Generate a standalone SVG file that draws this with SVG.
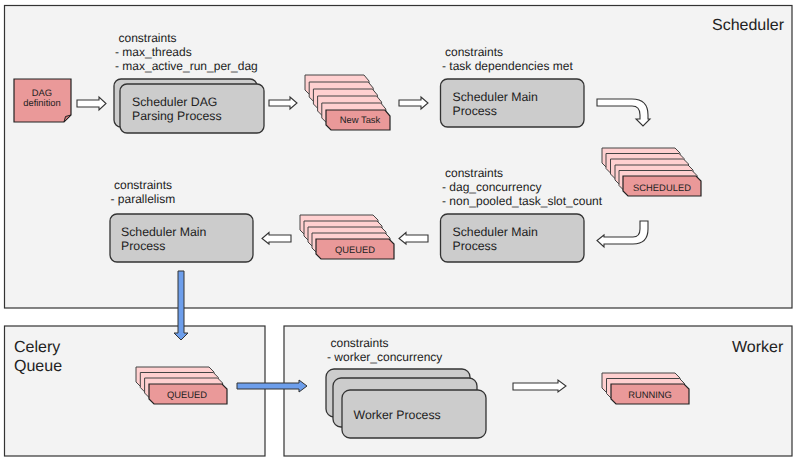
<svg xmlns="http://www.w3.org/2000/svg" width="800" height="467" viewBox="0 0 800 467">
<style>
text{font-family:"Liberation Sans",Arial,sans-serif;fill:#222;text-rendering:geometricPrecision}
.panel{fill:#f3f3f3;stroke:#333;stroke-width:1.2}
.box{fill:#ccc;stroke:#333;stroke-width:1.3}
.back{fill:#ffd0d0;stroke:#444;stroke-width:1}
.front{fill:#ea9999;stroke:#222;stroke-width:1.2}
.arrow{fill:#fff;stroke:#333;stroke-width:1.1;stroke-linejoin:miter}
.blue{fill:#6d9eeb;stroke:#333;stroke-width:1}
.title{font-size:16px}
.note{font-size:12px}
.label{font-size:12.3px}
.tag{font-size:9.4px;text-anchor:middle}
</style>
<defs>
<path id="c64" d="M0 0H59L64 6V20H5L0 15Z"/>
<path id="c78" d="M0 0H73L78 5V20H5L0 15Z"/>
</defs>
<rect width="800" height="467" fill="#fff"/>
<g id="scheduler-panel"><rect class="panel" x="4.500" y="5.500" width="787.500" height="302.500"/><text class="title" x="712" y="30">Scheduler</text></g>
<g id="celery-panel"><rect class="panel" x="4.500" y="326" width="260.500" height="130"/><text class="title" x="14" y="352">Celery</text><text class="title" x="14" y="371">Queue</text></g>
<g id="worker-panel"><rect class="panel" x="284" y="326" width="508" height="130"/><text class="title" x="732" y="352">Worker</text></g>

<g id="dag-definition">
<path class="front" d="M14 79H71V115L64 122H14Z"/>
<path d="M71 115L64 122L65.500 116.500Z" fill="#c77" stroke="#222" stroke-width="1"/>
<text class="tag" x="42" y="96">DAG</text><text class="tag" x="42" y="106">definition</text>
</g>
<g id="dag-parsing">
<rect class="box" x="114" y="79" width="143" height="48" rx="7"/>
<rect class="box" x="120" y="84" width="144" height="49" rx="7"/>
<text class="label" x="132" y="106">Scheduler DAG</text><text class="label" x="132" y="120">Parsing Process</text>
<text class="note" x="118.500" y="42">constraints</text><text class="note" x="115" y="56">- max_threads</text><text class="note" x="115" y="70">- max_active_run_per_dag</text>
</g>
<g id="new-task">
<g class="back"><use href="#c64" x="305" y="75"/><use href="#c64" x="309.200" y="82"/><use href="#c64" x="313.400" y="89"/><use href="#c64" x="317.600" y="96"/><use href="#c64" x="321.800" y="103"/></g>
<use class="front" href="#c64" x="326" y="110"/>
<text class="tag" x="360" y="122.800">New Task</text>
</g>
<g id="main-1">
<rect class="box" x="440.500" y="79" width="143.500" height="48" rx="7"/>
<text class="label" x="452.500" y="101">Scheduler Main</text><text class="label" x="452.500" y="115">Process</text>
<text class="note" x="445" y="56">constraints</text><text class="note" x="442" y="70">- task dependencies met</text>
</g>
<g id="scheduled">
<g class="back"><use href="#c78" x="602" y="148"/><use href="#c78" x="606" y="153.500"/><use href="#c78" x="610.500" y="159"/><use href="#c78" x="615" y="165"/><use href="#c78" x="619" y="170.500"/></g>
<use class="front" href="#c78" x="623" y="176"/>
<text class="tag" x="662" y="190.500">SCHEDULED</text>
</g>
<g id="main-2">
<rect class="box" x="440.500" y="214" width="143.500" height="48" rx="7"/>
<text class="label" x="452.500" y="236">Scheduler Main</text><text class="label" x="452.500" y="250">Process</text>
<text class="note" x="445" y="177">constraints</text><text class="note" x="442" y="191">- dag_concurrency</text><text class="note" x="442" y="205">- non_pooled_task_slot_count</text>
</g>
<g id="queued-1">
<g class="back"><use href="#c78" x="300" y="215"/><use href="#c78" x="304" y="221"/><use href="#c78" x="308" y="227"/><use href="#c78" x="312" y="233"/></g>
<use class="front" href="#c78" x="316" y="239"/>
<text class="tag" x="355" y="253">QUEUED</text>
</g>
<g id="main-3">
<rect class="box" x="110" y="214" width="143" height="48" rx="7"/>
<text class="label" x="121" y="236">Scheduler Main</text><text class="label" x="121" y="250">Process</text>
<text class="note" x="114" y="189">constraints</text><text class="note" x="110.500" y="203">- parallelism</text>
</g>
<g id="queued-2">
<g class="back"><use href="#c78" x="136" y="367"/><use href="#c78" x="140.300" y="372.500"/><use href="#c78" x="144.600" y="378"/></g>
<use class="front" href="#c78" x="149" y="384"/>
<text class="tag" x="187" y="398">QUEUED</text>
</g>
<g id="worker-process">
<rect class="box" x="326" y="369" width="144" height="48" rx="8"/>
<rect class="box" x="333" y="378" width="144" height="49" rx="8"/>
<rect class="box" x="342" y="390" width="144" height="48" rx="8"/>
<text class="label" x="353.500" y="419">Worker Process</text>
<text class="note" x="330.500" y="347">constraints</text><text class="note" x="327" y="361">- worker_concurrency</text>
</g>
<g id="running">
<g class="back"><use href="#c78" x="602" y="373"/><use href="#c78" x="606.500" y="378.500"/></g>
<use class="front" href="#c78" x="611" y="384"/>
<text class="tag" x="650" y="398">RUNNING</text>
</g>

<g id="connectors">
<path class="arrow" d="M77 100H99V97L106 103.500L99 110V107H77Z"/>
<path class="arrow" d="M269 100H290V97L297 103L290 109V106H269Z"/>
<path class="arrow" d="M399 100H421V97L428 103L421 109V106H399Z"/>
<path class="arrow" d="M597 99H632Q648 99 648 115V119H650L643 126L636 119H640V115Q640 106 632 106H597Z"/>
<path class="arrow" d="M648 221V229Q648 244 633 244H604V247L597 240.500L604 235V237H633Q640 237 640 229V221Z"/>
<path class="arrow" d="M428 235V242H406V244L399 238.500L406 232.500V235Z"/>
<path class="arrow" d="M291 235V242H269V244L262 238.500L269 232.500V235Z"/>
<path class="blue" d="M178 271H184V333H188L181 340L174 333H178Z"/>
<path class="blue" d="M237 383H299V380L307 386L299 392V389H237Z"/>
<path class="arrow" d="M513 383H558V380L566 386L558 392V390H513Z"/>
</g>
</svg>
